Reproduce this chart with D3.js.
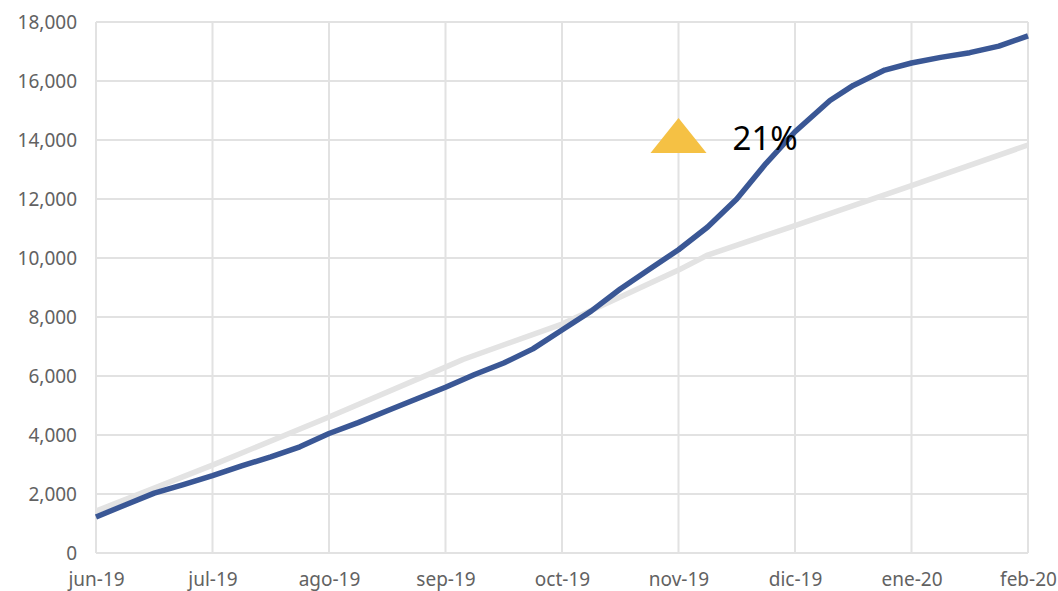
<!DOCTYPE html>
<meta charset="utf-8">

<head>
  <title>Acumulado</title>
</head>

<style>
  body { margin: 0; background: #fff; }
  .tick text { font-family: "Noto Sans", sans-serif; font-size: 19px; fill: #626262; }
</style>

<body>
  <svg width="1058" height="591">
    <g></g>
  </svg>

  <script src="https://cdn.jsdelivr.net/npm/d3@7"></script>
  <script>
    var monthLabels = ['jun-19', 'jul-19', 'ago-19', 'sep-19', 'oct-19', 'nov-19', 'dic-19', 'ene-20', 'feb-20'];
    var yTicks = [0, 2000, 4000, 6000, 8000, 10000, 12000, 14000, 16000, 18000];

    // blue series, read roughly each week (position in months from jun-19)
    var blueMonths = [0, 0.25, 0.5, 0.75, 1, 1.25, 1.5, 1.75, 2, 2.25, 2.5, 2.75, 3, 3.25, 3.5, 3.75,
      4, 4.25, 4.5, 4.75, 5, 5.25, 5.5, 5.75, 6, 6.3, 6.5, 6.77, 7, 7.25, 7.5, 7.75, 8];
    var blueValues = [1220, 1630, 2030, 2320, 2620, 2950, 3260, 3600, 4050, 4420, 4820, 5220, 5620, 6050, 6440, 6920,
      7560, 8200, 8950, 9620, 10280, 11050, 12000, 13200, 14280, 15340, 15850, 16370, 16610, 16800, 16960, 17180, 17530];

    // grey series
    var greyMonths = [0, 1, 2, 3, 3.15, 4, 5, 5.25, 6, 7, 8];
    var greyValues = [1420, 2980, 4610, 6300, 6560, 7760, 9590, 10100, 11100, 12450, 13830];

    var note = { month: 5, value: 14000, label: '21%' };

    var W = 932, H = 531;
    var x = d3.scaleLinear().domain([0, 8]).range([0, W]);
    var y = d3.scaleLinear().domain([0, 18000]).range([H, 0]);

    var scene = d3.select('g').attr('transform', 'translate(96, 22)');

    // grid
    scene.append('g').selectAll('line')
      .data(yTicks).enter().append('line')
      .attr('x1', 0).attr('x2', W)
      .attr('y1', d => y(d)).attr('y2', d => y(d))
      .attr('stroke', '#e2e2e2').attr('stroke-width', 2)
    scene.append('g').selectAll('line')
      .data(monthLabels).enter().append('line')
      .attr('x1', (d, i) => x(i)).attr('x2', (d, i) => x(i))
      .attr('y1', 0).attr('y2', H)
      .attr('stroke', '#e2e2e2').attr('stroke-width', 2)

    var leftAxis = scene.append('g')
      .call(d3.axisLeft(y).tickValues(yTicks).tickSize(0).tickPadding(19).tickFormat(d3.format(',')))
    leftAxis.select('.domain').remove()
    leftAxis.selectAll('text').attr('dy', '0.36em')

    var bottomAxis = scene.append('g')
      .attr('transform', 'translate(0,' + H + ')')
      .call(d3.axisBottom(x).tickValues(d3.range(monthLabels.length)).tickSize(0).tickPadding(20)
        .tickFormat(i => monthLabels[i]))
    bottomAxis.select('.domain').remove()

    var line = d3.line()
      .x(d => x(d[0]))
      .y(d => y(d[1]))

    scene.append('path')
      .datum(d3.zip(greyMonths, greyValues))
      .attr('fill', 'none')
      .attr('stroke', '#e3e3e3')
      .attr('stroke-width', 5.5)
      .attr('stroke-linejoin', 'round')
      .attr('d', line)

    scene.append('path')
      .datum(d3.zip(blueMonths, blueValues))
      .attr('fill', 'none')
      .attr('stroke', '#3a5795')
      .attr('stroke-width', 5.5)
      .attr('stroke-linejoin', 'round')
      .attr('d', line)

    // annotation
    var ann = scene.append('g')
      .attr('transform', 'translate(' + x(note.month) + ',' + y(note.value) + ')')
    ann.append('path')
      .attr('d', 'M-28,13 L0,-22 L28,13 Z')
      .attr('fill', '#f5c144')
    ann.append('text')
      .attr('x', 54)
      .attr('y', 10)
      .style('font-family', '"Noto Sans", sans-serif')
      .style('font-size', '33px')
      .attr('fill', '#000')
      .text(note.label)
  </script>
</body>

</html>
